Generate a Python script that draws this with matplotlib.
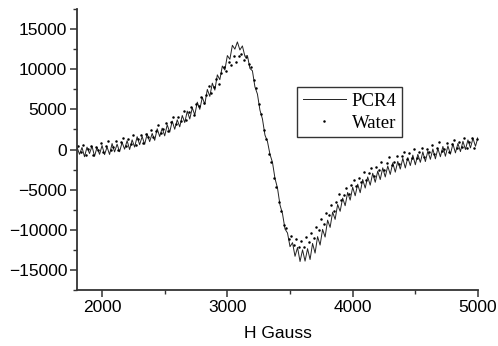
import numpy as np
import matplotlib
matplotlib.use("Agg")
import matplotlib.pyplot as plt
from matplotlib.ticker import MultipleLocator

# PCR4 field positions (G) and signal
pcr4_h = list(range(1800, 5001, 20))
pcr4_v = [
    300, -600, 250, -900, 300, -500, 420, -850, 280, -600,
    500, -640, 320, -620, 740, -300, 660, -280, 880, 40,
    1100, 0, 1200, 300, 1600, 600, 1620, 640, 1960, 980,
    2000, 1140, 2580, 1620, 2660, 1700, 3080, 2160, 3540, 2520,
    3700, 2820, 4240, 3360, 4780, 3800, 5200, 4300, 5900, 5000,
    6500, 5640, 7480, 6620, 8260, 7400, 9300, 8700, 10400, 9900,
    11700, 11240, 12980, 12500, 13400, 12400, 12900, 11600, 11700, 10100,
    9800, 7800, 6900, 4900, 3800, 1800, 1000, -600, -1600, -3600,
    -4800, -6900, -8000, -9900, -10400, -12100, -11600, -13300, -12200, -13950,
    -12500, -13900, -12350, -13700, -11700, -12900, -10850, -11900, -9950, -10900,
    -8800, -9700, -7800, -8700, -6850, -7700, -6050, -7000, -5350, -6300,
    -4700, -5760, -4320, -5380, -3740, -4800, -3420, -4440, -2960, -4080,
    -2700, -3740, -2280, -3420, -2060, -3100, -1660, -2820, -1480, -2440,
    -1100, -2300, -1000, -2000, -700, -1900, -600, -1600, -300, -1500,
    -200, -1220, 60, -1160, 120, -900, 380, -840, 440, -580,
    700, -420, 760, -260, 1020, 0, 1200, 200, 1400, 400,
    1500,
]

# Water field positions (G) and signal
water_h = list(range(1810, 5000, 20))
water_v = [
    400, -350, 600, -700, 20, 450, -700, 350, -100, 750,
    -300, 460, 1120, -20, 340, 1000, -30, 940, 1410, 480,
    1250, 650, 1750, 550, 1350, 1850, 780, 1910, 1540, 2470,
    1500, 2350, 3100, 2050, 2500, 3250, 2330, 3410, 3990, 3170,
    4050, 3570, 4790, 3710, 4630, 5250, 4350, 5650, 5450, 6550,
    5750, 6850, 7850, 7050, 7750, 8750, 8150, 9550, 10300, 9800,
    10900, 10550, 11650, 10950, 11600, 11900, 11150, 11500, 10600, 10300,
    8600, 7700, 5700, 4400, 2400, 1300, -500, -1500, -3500, -4700,
    -6600, -7600, -9400, -9800, -11200, -10800, -11900, -11200, -12100, -11350,
    -12100, -10900, -11550, -10350, -11000, -9700, -10050, -8600, -9250, -7900,
    -8150, -6900, -7600, -6500, -5500, -6350, -5700, -4800, -5600, -4400,
    -3750, -4500, -3550, -4000, -2750, -3850, -2950, -2350, -3350, -2150,
    -2500, -1550, -2500, -1650, -900, -1980, -1560, -840, -1820, -800,
    -300, -1200, -400, -1000, 100, -1120, -340, 140, -980, 100,
    -340, 520, -520, 240, 900, -240, 120, 780, -260, 700,
    1160, 220, 980, 340, 1400, 160, 920, 1380, 240, 1300,
]

fig = plt.figure(figsize=(4.98, 3.46), dpi=100)
ax = fig.add_axes([0.1546, 0.1618, 0.8052, 0.8122])

ax.plot(pcr4_h, pcr4_v, color="#222222", lw=0.7, label="PCR4")
ax.plot(water_h, water_v, ls="none", marker=".", ms=1.6, color="black", label="Water")

ax.set_xlim(1800, 5000)
ax.set_ylim(-17500, 17500)
ax.xaxis.set_major_locator(MultipleLocator(1000))
ax.xaxis.set_minor_locator(MultipleLocator(500))
ax.yaxis.set_major_locator(MultipleLocator(5000))
ax.yaxis.set_minor_locator(MultipleLocator(2500))

for s in ["top", "right"]:
    ax.spines[s].set_visible(False)
for s in ["left", "bottom"]:
    ax.spines[s].set_linewidth(1.3)
    ax.spines[s].set_color("#333333")

ax.tick_params(which="major", direction="out", length=5, width=1.1, color="#333333",
               labelsize=12.5, pad=2)
ax.tick_params(which="minor", direction="out", length=3, width=1.0, color="#333333")
for lab in ax.get_xticklabels() + ax.get_yticklabels():
    lab.set_family("Liberation Sans")

ax.set_xlabel("H Gauss", family="Liberation Sans", fontsize=12.5, labelpad=8)

leg = ax.legend(loc="upper left", bbox_to_anchor=(0.549, 0.722),
                prop={"family": "Liberation Serif", "size": 13.5},
                frameon=True, fancybox=False, borderpad=0.3,
                handlelength=2.3, handletextpad=0.3, labelspacing=0.25,
                borderaxespad=0, markerscale=1.0)
leg.get_frame().set_edgecolor("black")
leg.get_frame().set_linewidth(1.0)

fig.savefig("out.png", dpi=100)
